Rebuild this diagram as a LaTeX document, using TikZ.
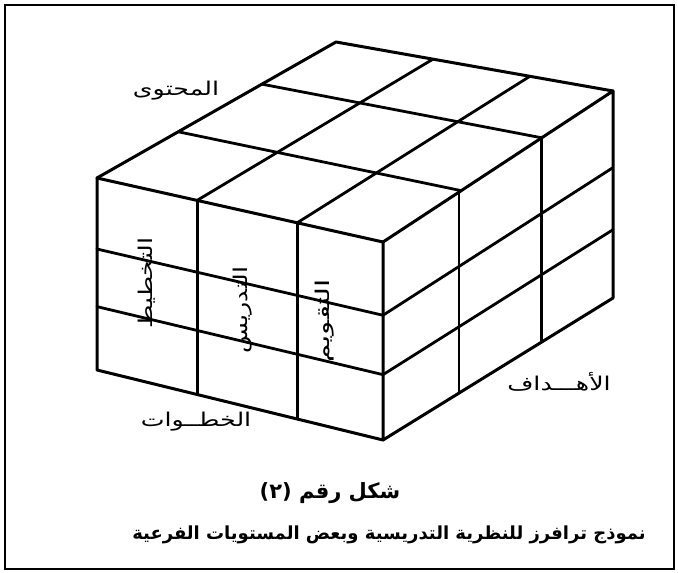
\documentclass[tikz,border=0pt]{standalone}
\usepackage{graphicx}
\usepackage{fontspec}
\usetikzlibrary{calc}
\newfontfamily\arabicfont[Script=Arabic]{DejaVu Sans}
\TeXXeTstate=1
\newcommand{\artext}[1]{\arabicfont\beginR #1\endR}
\newcommand{\wideartext}[1]{\scalebox{1.33}[1]{\artext{#1}}}

\begin{document}
\begin{tikzpicture}[
  x=1pt,
  y=-1pt,
  edge/.style={line width=3pt, line join=round, line cap=round},
  cell/.style={line width=2.8pt, line cap=round},
  frame/.style={line width=1.6pt},
  facename/.style={inner sep=0pt, font=\fontsize{19}{21}\selectfont},
  stepname/.style={inner sep=0pt, rotate=90, font=\fontsize{19}{21}\selectfont},
  caption/.style={inner sep=0pt, font=\fontsize{18}{21}\selectfont\bfseries}
]
\useasboundingbox (0,0) rectangle (678,573);
\draw[frame] (5,5) rectangle (674,569);

% =====================================================================
% corners of the cube
% =====================================================================
\coordinate (ftl) at (97,178);
\coordinate (ftr) at (383,242);
\coordinate (fbr) at (383,440);
\coordinate (fbl) at (97,370);
\coordinate (rtr) at (613,91);
\coordinate (rbr) at (613,298);
\coordinate (tbk) at (336,42);

% =====================================================================
% cells: front, right and top faces
% =====================================================================
\foreach \t in {0.35,0.70}
  \draw[cell] ($(ftl)!\t!(ftr)$) -- ($(fbl)!\t!(fbr)$);
\foreach \t in {0.37,0.67}
  \draw[cell] ($(ftl)!\t!(fbl)$) -- ($(ftr)!\t!(fbr)$);

\foreach \t in {0.33,0.69}
  \draw[cell] ($(ftr)!\t!(rtr)$) -- ($(fbr)!\t!(rbr)$);
\foreach \t in {0.37,0.67}
  \draw[cell] ($(ftr)!\t!(fbr)$) -- ($(rtr)!\t!(rbr)$);

\foreach \t in {0.34,0.69}
  \draw[cell] ($(ftl)!\t!(tbk)$) -- ($(ftr)!\t!(rtr)$);
\foreach \t in {0.35,0.70}
  \draw[cell] ($(ftl)!\t!(ftr)$) -- ($(tbk)!\t!(rtr)$);

% outline
\draw[edge] (ftl) -- (ftr) -- (fbr) -- (fbl) -- cycle;
\draw[edge] (ftr) -- (rtr) -- (rbr) -- (fbr);
\draw[edge] (ftl) -- (tbk) -- (rtr);

% =====================================================================
% names of the three dimensions and of the steps
% =====================================================================
\node[facename] (content) at (176,91) {\wideartext{المحتوى}};
\node[facename] (goals) at (559,382) {\wideartext{الأهـــداف}};
\node[facename] (steps) at (196,422) {\wideartext{الخطــوات}};

\node[stepname] (plan) at (147,283) {\wideartext{التخطيط}};
\node[stepname] (teach) at (243,310) {\wideartext{التدريس}};
\node[stepname] (assess) at (325,321) {\scalebox{1.55}[1]{\artext{التقويم}}};

% =====================================================================
% caption
% =====================================================================
\node[caption, font=\fontsize{21}{23}\selectfont\bfseries] (figno)
  at (330,493) {\artext{شكل رقم (٢)}};
\node[caption] (title) at (389,535)
  {\artext{نموذج ترافرز للنظرية التدريسية وبعض المستويات الفرعية}};

\end{tikzpicture}
\end{document}
